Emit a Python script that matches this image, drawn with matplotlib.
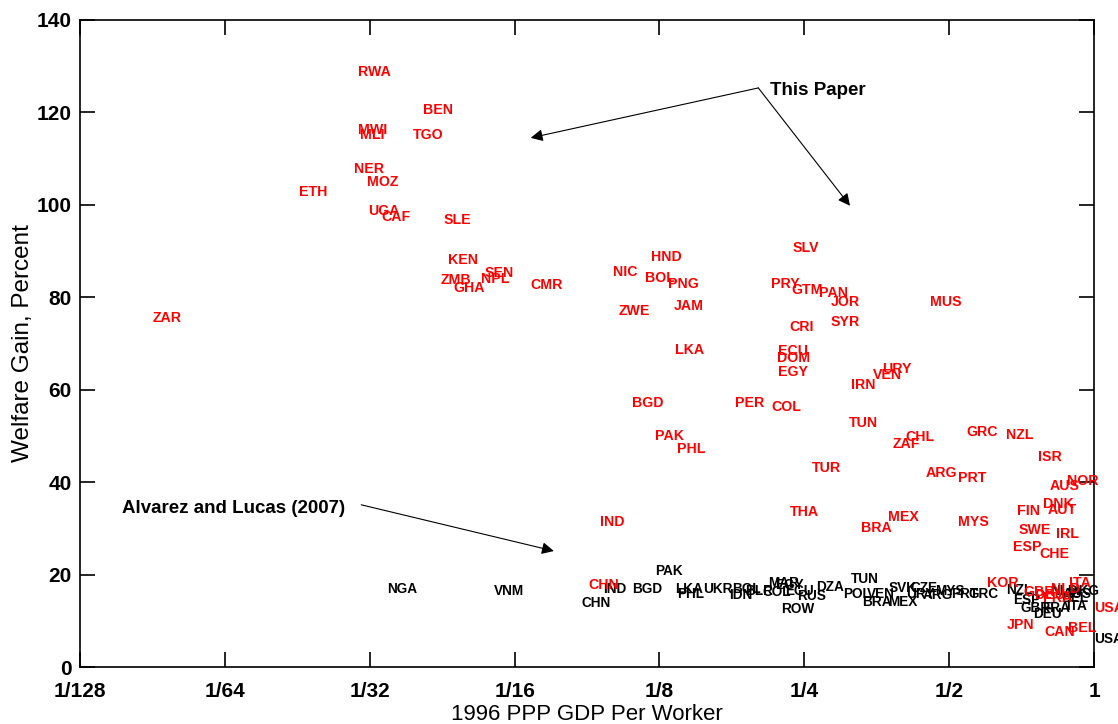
import matplotlib
matplotlib.use('Agg')
import matplotlib.pyplot as plt
import numpy as np

# This Paper (red): country, log2 of GDP per worker relative to US, welfare gain (%)
paper_codes = ['RWA', 'BEN', 'MWI', 'MLI', 'TGO', 'NER', 'MOZ', 'ETH', 'UGA', 'CAF',
               'SLE', 'KEN', 'ZMB', 'GHA', 'NPL', 'SEN', 'ZAR', 'CMR', 'NIC', 'HND',
               'BOL', 'PNG', 'ZWE', 'JAM', 'LKA', 'SLV', 'PRY', 'GTM', 'PAN', 'JOR',
               'CRI', 'SYR', 'ECU', 'DOM', 'EGY', 'MUS', 'IRN', 'VEN', 'URY', 'BGD',
               'PER', 'COL', 'TUN', 'PAK', 'PHL', 'TUR', 'CHL', 'ZAF', 'GRC', 'NZL',
               'ISR', 'ARG', 'PRT', 'AUS', 'NOR', 'DNK', 'AUT', 'FIN', 'THA', 'IND',
               'MEX', 'MYS', 'BRA', 'SWE', 'IRL', 'ESP', 'CHE', 'KOR', 'CHN', 'ITA',
               'GBR', 'NLD', 'DEU', 'FRA', 'USA', 'JPN', 'CAN', 'BEL']
paper_lgdp = [-5.08, -4.63, -5.08, -5.07, -4.70, -5.11, -5.02, -5.49, -5.01, -4.92,
              -4.49, -4.46, -4.51, -4.42, -4.23, -4.21, -6.50, -3.89, -3.32, -3.06,
              -3.10, -2.94, -3.28, -2.90, -2.89, -2.08, -2.23, -2.09, -1.90, -1.82,
              -2.10, -1.82, -2.18, -2.19, -2.18, -1.13, -1.68, -1.53, -1.46, -3.19,
              -2.48, -2.23, -1.69, -3.03, -2.88, -1.95, -1.30, -1.39, -0.88, -0.61,
              -0.39, -1.16, -0.94, -0.31, -0.19, -0.35, -0.32, -0.53, -2.10, -3.41,
              -1.42, -0.94, -1.61, -0.52, -0.26, -0.56, -0.38, -0.74, -3.49, -0.17,
              -0.49, -0.30, -0.41, -0.35, 0.00, -0.60, -0.34, -0.18]
paper_gain = [129.0, 120.8, 116.5, 115.4, 115.4, 108.0, 105.2, 103.0, 98.9, 97.6,
              97.0, 88.5, 84.0, 82.3, 84.2, 85.5, 75.8, 82.9, 85.7, 89.0,
              84.6, 83.1, 77.3, 78.4, 69.0, 90.9, 83.3, 81.8, 81.2, 79.4,
              73.8, 74.9, 68.8, 67.1, 64.1, 79.2, 61.3, 63.6, 64.7, 57.4,
              57.4, 56.5, 53.2, 50.4, 47.4, 43.3, 50.2, 48.5, 51.1, 50.6,
              45.7, 42.4, 41.3, 39.6, 40.5, 35.5, 34.4, 34.0, 33.8, 31.6,
              32.7, 31.8, 30.3, 29.9, 29.0, 26.2, 24.7, 18.6, 18.0, 18.4,
              16.5, 17.3, 16.0, 15.2, 13.0, 9.5, 7.8, 8.7]

# Alvarez and Lucas (2007) (black)
al_codes = ['NGA', 'VNM', 'CHN', 'IND', 'BGD', 'PAK', 'LKA', 'PHL', 'UKR', 'IDN',
            'BOL', 'BLR', 'COL', 'MAR', 'EGY', 'ECU', 'ROW', 'RUS', 'DZA', 'TUN',
            'POL', 'VEN', 'BRA', 'MEX', 'SVK', 'CZE', 'URY', 'ARG', 'MYS', 'PRT',
            'GRC', 'NZL', 'ESP', 'GBR', 'DEU', 'FRA', 'ITA', 'NLD', 'AUS', 'HKG',
            'BEL', 'USA']
al_lgdp = [-4.88, -4.14, -3.54, -3.39, -3.19, -3.03, -2.89, -2.88, -2.70, -2.52,
           -2.50, -2.41, -2.29, -2.25, -2.20, -2.13, -2.16, -2.05, -1.92, -1.68,
           -1.73, -1.57, -1.60, -1.42, -1.42, -1.27, -1.30, -1.18, -1.10, -0.99,
           -0.87, -0.61, -0.56, -0.51, -0.42, -0.36, -0.19, -0.30, -0.22, -0.17,
           -0.23, 0.00]
al_gain = [17.3, 16.7, 14.1, 17.1, 17.1, 21.0, 17.1, 16.2, 17.1, 16.0,
           17.1, 16.7, 16.5, 18.4, 18.0, 16.7, 12.8, 15.6, 17.7, 19.3,
           16.2, 16.2, 14.5, 14.5, 17.5, 17.5, 16.2, 16.0, 16.7, 16.2,
           16.2, 16.9, 14.9, 13.2, 11.9, 13.2, 13.6, 16.7, 16.2, 16.7,
           15.2, 6.3]

xticks = [1/128, 1/64, 1/32, 1/16, 1/8, 1/4, 1/2, 1]
xticklabels = ['1/128', '1/64', '1/32', '1/16', '1/8', '1/4', '1/2', '1']

plt.rcParams['font.family'] = ['Liberation Sans', 'DejaVu Sans']

fig = plt.figure(figsize=(11.18, 7.24), dpi=100)
ax = fig.add_axes([0.0716, 0.0787, 0.907, 0.8937])
ax.set_xscale('log', base=2)
ax.set_xlim(1/128, 1)
ax.set_ylim(0, 140)

for code, lg, g in zip(al_codes, al_lgdp, al_gain):
    ax.text(2.0**lg, g, code, color='black', fontsize=9.8, fontweight='bold',
            ha='left', va='center_baseline')
for code, lg, g in zip(paper_codes, paper_lgdp, paper_gain):
    ax.text(2.0**lg, g, code, color='red', fontsize=10.2, fontweight='bold',
            ha='left', va='center_baseline')

arrow = dict(arrowstyle='-|>', color='black', lw=0.8, mutation_scale=18,
             shrinkA=0, shrinkB=0)
ax.text(0.2126, 125.1, 'This Paper', fontsize=13.5, fontweight='bold',
        ha='left', va='center_baseline')
ax.annotate('', xy=(0.0675, 114.5), xytext=(0.2006, 125.3), arrowprops=arrow)
ax.annotate('', xy=(0.311, 99.8), xytext=(0.2006, 125.3), arrowprops=arrow)
ax.text(0.00953, 34.8, 'Alvarez and Lucas (2007)', fontsize=13.5, fontweight='bold',
        ha='left', va='center_baseline')
ax.annotate('', xy=(0.0754, 25.1), xytext=(0.0300, 35.1), arrowprops=arrow)

ax.set_xticks(xticks)
ax.set_xticklabels(xticklabels)
ax.minorticks_off()
ax.set_yticks(np.arange(0, 141, 20))
ax.tick_params(direction='in', length=11, width=1.2, top=True, right=True,
               labelsize=15)
ax.tick_params(axis='x', pad=11)
ax.tick_params(axis='y', pad=6)
for lab in ax.get_xticklabels() + ax.get_yticklabels():
    lab.set_fontweight('bold')
for s in ax.spines.values():
    s.set_linewidth(1.2)

ax.set_xlabel('1996 PPP GDP Per Worker', fontsize=16, labelpad=2)
ax.set_ylabel('Welfare Gain, Percent', fontsize=17.5, labelpad=2)

fig.savefig('out.png', dpi=100)
